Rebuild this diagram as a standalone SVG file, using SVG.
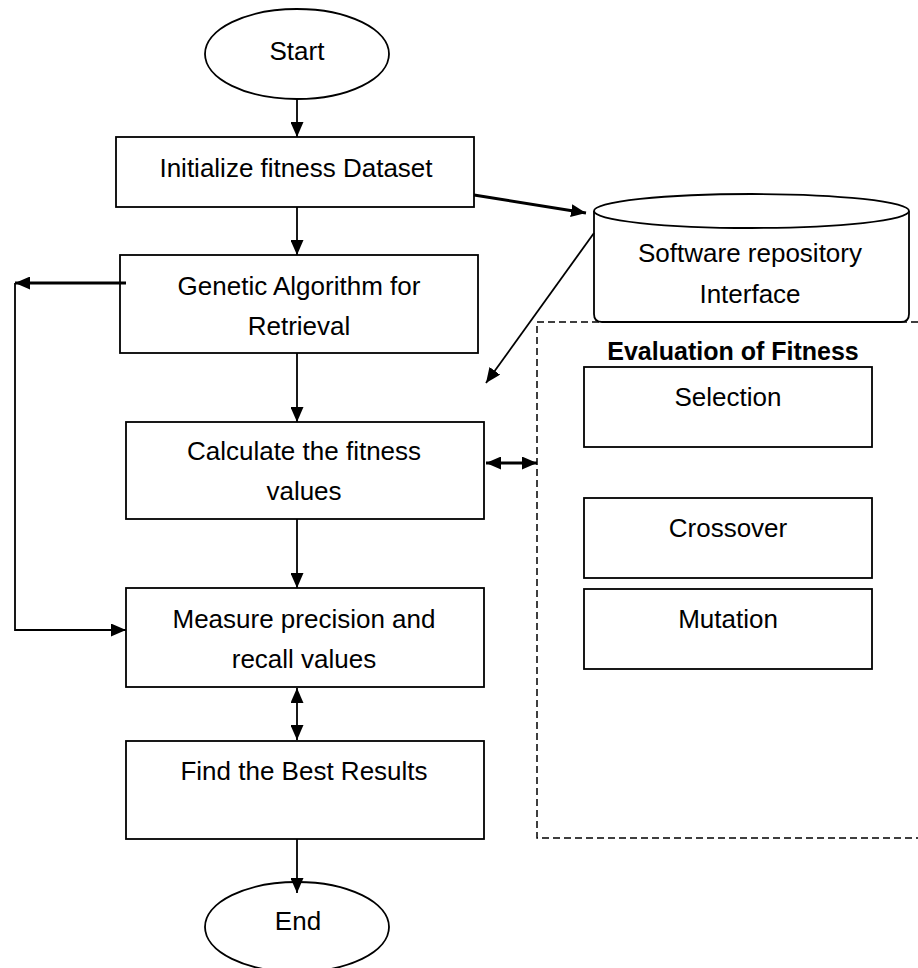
<svg xmlns="http://www.w3.org/2000/svg" width="918" height="968" viewBox="0 0 918 968">
<defs>
<marker id="ah" viewBox="0 0 15 13" refX="15" refY="6.5" markerWidth="15" markerHeight="13" markerUnits="userSpaceOnUse" orient="auto-start-reverse">
<path d="M0,0 L15,6.5 L0,13 Z" fill="#000"/>
</marker>
<style>
.box{fill:#fff;stroke:#000;stroke-width:1.8}
.t{font-family:"Liberation Sans",Arial,sans-serif;font-size:26px;fill:#000;text-anchor:middle}
.b{font-weight:bold;font-size:25px}
.c{fill:none;stroke:#000;stroke-width:1.8}
.thick{stroke-width:2.8}
.dash{fill:none;stroke:#000;stroke-width:1.5;stroke-dasharray:7,4}
</style>
</defs>
<rect width="918" height="968" fill="#fff"/>
<g id="dashed-region">
<path class="dash" d="M918,322 L537,322 L537,838 L918,838"/>
<text class="t b" x="733" y="360">Evaluation of Fitness</text>
</g>
<g id="start"><ellipse class="box" cx="297" cy="54" rx="92" ry="45"/><text class="t" x="297" y="60">Start</text></g>
<g id="init"><rect class="box" x="116" y="137" width="358" height="70"/><text class="t" x="296" y="177">Initialize fitness Dataset</text></g>
<g id="repo">
<path class="box" d="M594,211 L594,314 Q594,322 602,322 L901,322 Q909,322 909,314 L909,211"/>
<ellipse class="box" cx="751.5" cy="211" rx="157.5" ry="17"/>
<text class="t" x="750" y="262">Software repository</text>
<text class="t" x="750" y="303">Interface</text>
</g>
<g id="ga"><rect class="box" x="120" y="255" width="358" height="98"/><text class="t" x="299" y="295">Genetic Algorithm for</text><text class="t" x="299" y="335">Retrieval</text></g>
<g id="calc"><rect class="box" x="126" y="422" width="358" height="97"/><text class="t" x="304" y="460">Calculate the fitness</text><text class="t" x="304" y="500">values</text></g>
<g id="measure"><rect class="box" x="126" y="588" width="358" height="99"/><text class="t" x="304" y="628">Measure precision and</text><text class="t" x="304" y="668">recall values</text></g>
<g id="find"><rect class="box" x="126" y="741" width="358" height="98"/><text class="t" x="304" y="780">Find the Best Results</text></g>
<g id="end"><ellipse class="box" cx="297" cy="927" rx="92" ry="45"/><text class="t" x="298" y="930">End</text></g>
<g id="selection"><rect class="box" x="584" y="367" width="288" height="80"/><text class="t" x="728" y="406">Selection</text></g>
<g id="crossover"><rect class="box" x="584" y="498" width="288" height="80"/><text class="t" x="728" y="537">Crossover</text></g>
<g id="mutation"><rect class="box" x="584" y="589" width="288" height="80"/><text class="t" x="728" y="628">Mutation</text></g>
<g id="connectors">
<line class="c" x1="297" y1="99" x2="297" y2="137" marker-end="url(#ah)"/>
<line class="c" x1="297" y1="207" x2="297" y2="255" marker-end="url(#ah)"/>
<line class="c thick" x1="474" y1="195" x2="586" y2="213" marker-end="url(#ah)"/>
<line class="c" x1="594" y1="233" x2="486" y2="383" marker-end="url(#ah)"/>
<line class="c thick" x1="126" y1="283" x2="15" y2="283" marker-end="url(#ah)"/>
<polyline class="c" points="15,283 15,630 126,630" marker-end="url(#ah)"/>
<line class="c" x1="297" y1="353" x2="297" y2="422" marker-end="url(#ah)"/>
<line class="c thick" x1="486" y1="463" x2="537" y2="463" marker-start="url(#ah)" marker-end="url(#ah)"/>
<line class="c" x1="297" y1="688" x2="297" y2="740" marker-start="url(#ah)" marker-end="url(#ah)"/>
<line class="c" x1="297" y1="519" x2="297" y2="588" marker-end="url(#ah)"/>
<line class="c" x1="297" y1="839" x2="297" y2="893" marker-end="url(#ah)"/>
</g>
</svg>
